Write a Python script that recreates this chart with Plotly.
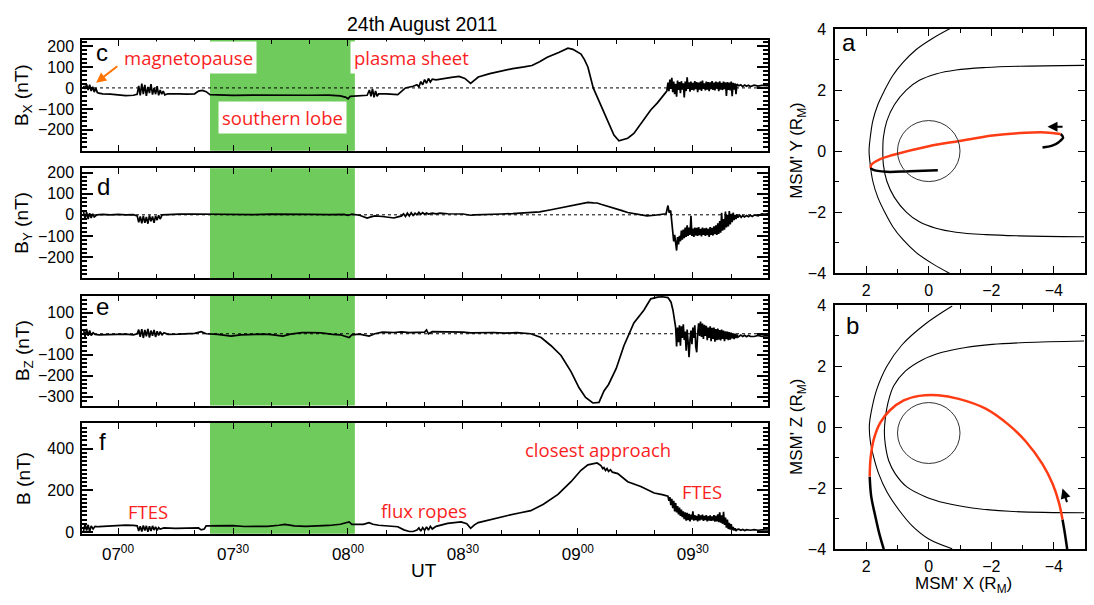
import plotly.graph_objects as go

FONT = "Liberation Sans, Arial, sans-serif"
RED_FONT = "Open Sans, Liberation Sans, sans-serif"
RED = "rgb(250,30,30)"
GREEN = "#6fcb5c"
ORANGE = "#ff7300"
TRAJ_RED = "#ff3c14"

# ---------------- time axis (minutes after 00:00 UT, 24 Aug 2011) ----------------
t_range = [410.6, 589.6]
lobe_interval = [444.0, 481.8]
time_tick_vals = [420, 450, 480, 510, 540, 570]
time_tick_text = ["07<sup>00</sup>", "07<sup>30</sup>", "08<sup>00</sup>",
                  "08<sup>30</sup>", "09<sup>00</sup>", "09<sup>30</sup>"]

# ---------------- magnetic field series (time, nT) ----------------
bx_pts = [
    (411.0, 10), (411.4, -5), (411.8, 18), (412.2, -10), (412.6, 15), (413.0, -15), (413.4, 5),
    (413.8, -20), (414.2, 0), (414.6, -22), (415, -25), (416, -28), (418, -30), (420, -33),
    (422, -37), (424, -35), (425, -30),
    (425.4, 10), (425.8, -35), (426.2, 20), (426.6, -30), (427.0, 15), (427.4, -38), (427.8, 5),
    (428.2, -25), (428.6, 18), (429.0, -32), (429.4, 0), (429.8, -30), (430.2, 8), (430.6, -35),
    (431.0, -10), (431.4, -30), (431.8, -15), (432.2, -33), (433, -28),
    (434, -27), (436, -28), (438, -30), (440, -28), (441, -15), (442, -12), (443, -18), (444, -32),
    (446, -33), (450, -36), (455, -34), (460, -35), (465, -33), (470, -35), (475, -34), (478, -38),
    (479.5, -45), (480, -52), (480.6, -40), (483, -38), (485, -35), (485.6, -10), (486, -40),
    (486.4, -5), (486.8, -45), (487.2, -15), (487.6, -40), (488, -28), (490, -28), (493, -32),
    (495, 0), (497, 8), (498, 15), (498.5, 5), (499, 30), (499.5, 15), (500, 40), (500.5, 22),
    (501, 45), (501.5, 28), (502, 42), (503, 38), (505, 45), (507, 50), (509, 55), (510.5, 45),
    (512, 22), (513, 35), (514, 52), (517, 68), (520, 80), (523, 92), (526, 100), (528, 107),
    (530, 125), (532, 146), (535, 169), (537.4, 189), (538.7, 184), (540, 170), (540.8, 161),
    (541.7, 135), (542.6, 100), (544, 0), (546, -86), (547.8, -163), (549.4, -225), (550.7, -252),
    (553, -240), (554.6, -217), (556, -180), (557.2, -147), (559, -105), (560.8, -70),
    (562.4, -32), (563.2, -15),
    (582, 10), (582.5, 15), (583, 6), (583.5, 14), (584, 8), (584.5, 13), (585, 7), (586, 13),
    (587, 9), (588, 12), (589, 10), (590, 11),
]
# fluctuating plasma-sheet interval, samples every 0.25 min from 563.5
bx_wave_start, bx_wave_step = 563.5, 0.25
bx_wave = [25, -15, 40, -5, 48, -20, 30, -30, 20, -42, 35, -10, 28, -25, 32, -8, 22, -45, 30, -15,
           50, -5, 26, -18, 30, -10, 24, -12, 32, -6, 28, -20, 25, -8, 30, -14, 35, -5, 22, -12,
           30, -8, 28, -16, 26, -6, 33, -10, 25, -12, 30, -4, 27, -15, 31, -8, 24, -10, 30, -6,
           26, -38, 28, -10, 25, -12, 30, -40, 24, -8, 22, -30, 18]

by_pts = [
    (411, 15), (411.4, -18), (411.8, 12), (412.2, -20), (412.6, 8), (413, -15), (413.4, 5),
    (413.8, -10), (414.5, 0), (416, 2), (418, 0), (420, 2), (422, 0), (424, 1), (425, -5),
    (425.4, -35), (425.8, -8), (426.2, -40), (426.6, -5), (427, -38), (427.4, -10), (427.8, -42),
    (428.2, -3), (428.6, -30), (429, -8), (429.4, -38), (429.8, -5), (430.2, -25), (430.6, -2),
    (431, -20), (431.5, 0), (433, 2), (436, 3), (440, 4), (445, 2), (450, 0), (455, 1), (460, 3),
    (465, 4), (470, 2), (475, 1), (479, 2), (480, -3), (481, 3), (483, -2), (484, -8), (485, -15),
    (486, -10), (487, -5), (489, -8), (491, -12), (492, -15), (493, -10), (494, -5), (494.5, 5),
    (495, -8), (495.5, 8), (496, -5), (496.5, 10), (497, -3), (497.5, 8), (498, 0), (498.5, 12),
    (499, 2), (499.5, 10), (500, 3), (500.5, 9), (501, 4), (502, 8), (503, 5), (504, 8), (506, 5),
    (510, 4), (512, -2), (513, 0), (516, 3), (520, 4), (523, 6), (525, 8), (528, 11), (530, 14),
    (533, 24), (535.6, 33), (539, 44), (541, 50), (542.6, 59), (544, 57), (545, 56), (546, 50),
    (547.8, 41), (549, 36), (550.4, 26), (551.5, 20), (553, 11), (554.5, 6), (556.4, 3),
    (558, -5), (560, -2), (562, 2), (563, 5), (563.5, 44), (563.8, 10), (564.2, 20),
    (582.2, -2), (582.6, -12), (583, -4), (583.5, -10), (584, -3), (584.5, -9), (585, -2),
    (585.5, -8), (586, -1), (587, -5), (588, 4), (589, 3), (590, 8),
]
by_wave_start, by_wave_step = 564.5, 0.25
by_wave = [-40, -90, -126, -95, -150, -169, -105, -140, -100, -125, -75, -118, -70, -110, -60,
           -105, -50, -100, -60, -95, -5, -100, -65, -105, -60, -98, -62, -100, -58, -96, -66,
           -102, -60, -95, -64, -100, -62, -96, -66, -104, -58, -95, -62, -98, -55, -92, -50, -95,
           -40, -90, -30, -85, 10, -75, -20, -70, 15, -60, 0, -55, 18, -45, 5, -35, 10, -25, 0,
           -20, 2, -12]

bz_pts = [
    (411, 20), (411.4, -15), (411.8, 23), (412.2, -10), (412.6, 15), (413, -8), (413.5, 5),
    (414, -3), (415, -5), (418, -4), (420, -3), (422, -2), (424, -5), (425, 0), (425.4, 20),
    (425.8, -15), (426.2, 22), (426.6, -20), (427, 18), (427.4, -12), (427.8, 23), (428.2, -18),
    (428.6, 15), (429, -10), (429.4, 18), (429.8, -15), (430.2, 12), (430.6, -8), (431, 10),
    (431.5, -5), (432, 5), (433, -3), (436, -2), (438, 0), (440, 2), (441.7, 10), (443, 0),
    (446, -3), (449.5, -11), (452, -5), (455, -3), (458, -2), (460, -4), (463, -11), (465, -2),
    (468, 5), (470, 6), (473, 4), (476, -3), (478, -5), (480.3, -18), (481, -5), (483, -2),
    (485.5, -11), (487, 0), (489, 8), (492, 6), (494, 9), (496, 5), (498, 6), (500, 8),
    (500.5, 18), (501, 0), (502, 10), (505, 9), (508, 10), (510, 8), (512, 4), (515, 5), (518, 6),
    (521, 3), (524, 5), (527.7, 0), (530.4, -18), (533, -57), (535.6, -103), (538.2, -180),
    (540.3, -257), (542, -303), (543.9, -329), (545.5, -326), (546.8, -272), (548, -241),
    (550, -165), (552, -57), (554.6, 51), (557.2, 112), (559, 166), (560.8, 174), (562, 176),
    (563.5, 172), (564.3, 150), (564.8, 112), (565.2, 60),
    (582, -12), (582.5, -6), (583, -13), (583.5, -7), (584, -14), (584.5, -8), (585, -12),
    (586, -13), (587, -8), (588, -12), (589, -9), (590, -11),
]
bz_wave_start, bz_wave_step = 565.5, 0.25
bz_wave = [30, -60, 30, -40, 40, -57, 35, -20, 45, -30, 10, -80, 20, -40, -111, -30, 15, -50, 30,
           -20, 40, -60, -88, 0, 50, -10, 58, -15, 48, -25, 42, -10, 38, -30, 30, -20, 35, -35, 28,
           -25, 30, -38, 22, -30, 25, -28, 18, -32, 20, -25, 15, -35, 12, -25, 10, -30, 8, -28, 5,
           -22, 2, -25, 0, -20, -4, -16]

b_pts = [
    (411, 5), (411.4, 40), (411.8, 8), (412.2, 35), (412.6, 3), (413, 30), (413.5, 15), (414, 28),
    (415, 26), (417, 28), (420, 32), (422, 34), (424, 32), (425, 30), (425.4, 5), (425.8, 28),
    (426.2, 3), (426.6, 32), (427, 8), (427.4, 30), (427.8, 2), (428.2, 28), (428.6, 6), (429, 30),
    (429.4, 10), (429.8, 25), (430.2, 8), (430.6, 22), (431, 15), (432, 20), (435, 18), (438, 18),
    (441, 20), (441.7, 11), (442.5, 15), (443, 30), (445, 31), (448, 33), (450, 31), (453, 27),
    (456, 26), (459, 28), (462, 33), (463.5, 37), (466, 30), (469, 28), (472, 30), (475, 32),
    (478, 38), (480.3, 49), (481, 37), (484, 37), (485.5, 45), (486.5, 38), (488, 33), (491, 28),
    (493, 26), (494.6, 11), (496, 3), (497, 3), (498, 10), (498.5, 20), (499, 5), (499.5, 22),
    (500, 8), (500.5, 25), (501, 10), (501.5, 28), (502, 15), (503, 28), (506, 42), (509.5, 49),
    (511, 40), (512, 18), (513, 35), (514, 46), (517, 60), (521.7, 80), (525, 93), (527.7, 103),
    (531, 134), (534.8, 181), (538.2, 242), (540.8, 297), (542.6, 323), (544.2, 327), (545, 332),
    (546, 320), (546.5, 305), (546.8, 310), (547.2, 296), (547.6, 305), (548, 292), (548.5, 300),
    (549, 288), (550.4, 281), (553, 242), (556.4, 219), (559.9, 188), (562, 180), (563.5, 173),
    (582, 14), (582.5, 9), (583, 13), (583.5, 8), (584, 12), (585, 9), (586, 12), (587, 9),
    (588, 11), (590, 10),
]
b_wave_start, b_wave_step = 563.75, 0.25
b_wave = [150, 168, 130, 160, 115, 150, 100, 140, 95, 125, 85, 118, 78, 108, 72, 100, 62, 95, 55,
          92, 58, 88, 52, 84, 60, 100, 55, 82, 58, 78, 52, 86, 56, 80, 60, 84, 54, 78, 58, 82, 52,
          76, 56, 80, 54, 75, 55, 82, 50, 78, 52, 85, 48, 95, 45, 80, 40, 98, 35, 70, 22, 60, 15,
          45, 12, 38, 10, 25, 8, 18, 6, 12]

# ---------------- orbit panels (R_M) ----------------
planet_a = dict(cx=0.0, cy=0.0, r=1.0)
planet_b = dict(cx=0.0, cy=-0.19, r=1.0)

mp_a_x = [-4.97, -2.89, -1.83, -0.87, -0.23, 0.30, 0.72, 1.10, 1.34, 1.45, 1.47,
          1.45, 1.34, 1.10, 0.72, 0.30, -0.23, -0.87, -1.83, -2.89, -4.97]
mp_a_y = [2.81, 2.78, 2.74, 2.66, 2.53, 2.32, 2.00, 1.52, 0.99, 0.46, 0.0,
          -0.46, -0.99, -1.52, -2.00, -2.32, -2.53, -2.66, -2.74, -2.78, -2.81]
bs_a_x = [-0.74, -0.13, 0.40, 0.83, 1.15, 1.41, 1.63, 1.79, 1.87, 1.91,
          1.87, 1.79, 1.63, 1.41, 1.15, 0.83, 0.40, -0.13, -0.74]
bs_a_y = [4.05, 3.70, 3.33, 2.90, 2.48, 2.00, 1.52, 0.99, 0.46, 0.0,
          -0.46, -0.99, -1.52, -2.00, -2.48, -2.90, -3.33, -3.70, -4.05]

mp_b_x = [-4.97, -3.10, -2.03, -1.18, -0.43, 0.21, 0.75, 1.12, 1.30, 1.39, 1.42,
          1.39, 1.28, 1.07, 0.70, 0.11, -0.53, -1.39, -2.57, -4.97]
mp_b_y = [2.83, 2.78, 2.72, 2.62, 2.46, 2.21, 1.84, 1.36, 0.82, 0.29, -0.14,
          -0.57, -1.10, -1.53, -1.96, -2.28, -2.49, -2.65, -2.76, -2.81]
bs_b_x = [-0.75, 0.11, 0.86, 1.34, 1.66, 1.82, 1.90, 1.87, 1.76, 1.60, 1.34, 0.96, 0.53, 0.0, -0.75]
bs_b_y = [3.98, 3.39, 2.70, 2.00, 1.25, 0.61, 0.07, -0.46, -0.99, -1.53, -2.12, -2.71, -3.24, -3.67, -3.99]

# spacecraft track, panel a (X, Y)
trk_a_pre_x = [-0.29, 0.62, 1.36, 1.79, 1.86]
trk_a_pre_y = [-0.63, -0.66, -0.68, -0.61, -0.55]
trk_a_red_x = [1.86, 1.84, 1.57, 1.15, 0.0, -0.98, -2.04, -3.10, -3.74, -4.22]
trk_a_red_y = [-0.55, -0.45, -0.27, -0.13, 0.16, 0.33, 0.51, 0.60, 0.61, 0.56]
trk_a_post_x = [-4.22, -4.30, -4.17, -3.95, -3.64]
trk_a_post_y = [0.56, 0.45, 0.30, 0.18, 0.12]
# spacecraft track, panel b (X, Z)
trk_b_pre_x = [1.44, 1.58, 1.71, 1.84, 1.89]
trk_b_pre_z = [-4.0, -3.5, -2.92, -2.28, -1.62]
trk_b_red_x = [1.89, 1.86, 1.76, 1.55, 1.25, 0.80, 0.30, -0.30, -0.96, -1.82, -2.57, -3.10,
               -3.64, -3.96, -4.17, -4.28]
trk_b_red_z = [-1.62, -1.00, -0.40, 0.15, 0.55, 0.88, 1.03, 1.05, 0.93, 0.61, 0.07, -0.46,
               -1.21, -1.85, -2.49, -3.03]
trk_b_post_x = [-4.28, -4.35, -4.43]
trk_b_post_z = [-3.03, -3.45, -4.0]
arrow_a = dict(tail=(-4.33, 0.8), head=(-3.80, 0.8))
arrow_b = dict(tail=(-4.44, -2.51), head=(-4.28, -2.01))

# ---------------- figure ----------------
W, H = 1094, 605
def px_x(p): return p / W
def px_y(p): return 1 - p / H

def merge(pts, start, step, vals):
    wave = [(start + k * step, v) for k, v in enumerate(vals)]
    allp = sorted(pts + wave)
    return [p[0] for p in allp], [p[1] for p in allp]

fig = go.Figure()

series = [("x", "y", merge(bx_pts, bx_wave_start, bx_wave_step, bx_wave)),
          ("x2", "y2", merge(by_pts, by_wave_start, by_wave_step, by_wave)),
          ("x3", "y3", merge(bz_pts, bz_wave_start, bz_wave_step, bz_wave)),
          ("x4", "y4", merge(b_pts, b_wave_start, b_wave_step, b_wave))]
for xa, ya, (ts, vs) in series:
    fig.add_trace(go.Scatter(x=ts, y=vs, xaxis=xa, yaxis=ya,
                             mode="lines", line=dict(color="black", width=1.7),
                             showlegend=False, hoverinfo="skip"))

def line(xa, ya, xs, ys, color="black", width=1.1, shape="spline"):
    fig.add_trace(go.Scatter(x=xs, y=ys, xaxis=xa, yaxis=ya, mode="lines",
                             line=dict(color=color, width=width, shape=shape),
                             showlegend=False, hoverinfo="skip"))

line("x5", "y5", mp_a_x, mp_a_y)
line("x5", "y5", bs_a_x, bs_a_y)
line("x5", "y5", trk_a_pre_x, trk_a_pre_y, width=2.5)
line("x5", "y5", trk_a_post_x, trk_a_post_y, width=2.5)
line("x5", "y5", trk_a_red_x, trk_a_red_y, color=TRAJ_RED, width=2.5)
line("x6", "y6", mp_b_x, mp_b_y)
line("x6", "y6", bs_b_x, bs_b_y)
line("x6", "y6", trk_b_pre_x, trk_b_pre_z, width=2.5)
line("x6", "y6", trk_b_post_x, trk_b_post_z, width=2.5)
line("x6", "y6", trk_b_red_x, trk_b_red_z, color=TRAJ_RED, width=2.5)

# domains (pixel boxes of the reference)
left_x = [px_x(82), px_x(768)]
rows = [(33, 147), (165, 278), (296, 409), (427, 541)]
right_x = [px_x(835), px_x(1085)]
right_rows = [(21.7, 272.7), (306, 556.7)]

y_ranges = [[-300, 228], [-300, 220], [-341, 181], [-8, 524]]
y_ticks = [[-200, -100, 0, 100, 200], [-200, -100, 0, 100, 200],
           [-300, -200, -100, 0, 100], [0, 200, 400]]

axis_common = dict(showline=True, linecolor="black", linewidth=1.5, mirror="allticks",
                   ticks="inside", tickcolor="black", showgrid=False, zeroline=False,
                   tickfont=dict(family=FONT, size=16, color="black"))

layout = dict(width=W, height=H, margin=dict(l=0, r=0, t=0, b=0),
              plot_bgcolor="white", paper_bgcolor="white", showlegend=False)

for i in range(4):
    sfx = "" if i == 0 else str(i + 1)
    top, bot = rows[i]
    layout["xaxis" + sfx] = dict(axis_common, domain=left_x, range=t_range,
                                 anchor="y" + sfx, tickmode="array",
                                 tickvals=time_tick_vals, ticktext=time_tick_text,
                                 ticklen=6, tickwidth=1.2,
                                 showticklabels=(i == 3), ticklabelstandoff=4,
                                 tickfont=dict(family=FONT, size=17, color="black"),
                                 minor=dict(tickmode="linear", tick0=0, dtick=10, ticks="inside",
                                            ticklen=4, tickcolor="black", showgrid=False))
    if i > 0:
        layout["xaxis" + sfx]["matches"] = "x"
    layout["yaxis" + sfx] = dict(axis_common, domain=[px_y(bot), px_y(top)], range=y_ranges[i],
                                 anchor="x" + sfx, tickmode="array", tickvals=y_ticks[i],
                                 ticklen=11, tickwidth=1.5, ticklabelstandoff=3,
                                 minor=dict(tickmode="linear", tick0=0, dtick=20, ticks="inside",
                                            ticklen=5, tickcolor="black", showgrid=False))

for j in range(2):
    sfx = str(j + 5)
    top, bot = right_rows[j]
    layout["xaxis" + sfx] = dict(axis_common, domain=right_x, range=[3, -5], anchor="y" + sfx,
                                 tickmode="array", tickvals=[2, 0, -2, -4],
                                 ticklen=7, tickwidth=1.2, ticklabelstandoff=2,
                                 minor=dict(tickmode="linear", tick0=0, dtick=1, ticks="inside",
                                            ticklen=4, tickcolor="black", showgrid=False))
    layout["yaxis" + sfx] = dict(axis_common, domain=[px_y(bot), px_y(top)], range=[-4, 4],
                                 anchor="x" + sfx, tickmode="array", tickvals=[-4, -2, 0, 2, 4],
                                 ticklen=7, tickwidth=1.2, ticklabelstandoff=4,
                                 minor=dict(tickmode="linear", tick0=0, dtick=1, ticks="inside",
                                            ticklen=4, tickcolor="black", showgrid=False))

shapes = []
for i in range(4):
    sfx = "" if i == 0 else str(i + 1)
    shapes.append(dict(type="rect", xref="x" + sfx, yref="y" + sfx + " domain",
                       x0=lobe_interval[0], x1=lobe_interval[1], y0=0, y1=1,
                       fillcolor=GREEN, line=dict(width=0), layer="below"))
    if i < 3:
        shapes.append(dict(type="line", xref="x" + sfx + " domain", yref="y" + sfx,
                           x0=0, x1=1, y0=0, y1=0, line=dict(color="black", width=1, dash="dot"),
                           layer="below"))
for sfx, pl in (("5", planet_a), ("6", planet_b)):
    shapes.append(dict(type="circle", xref="x" + sfx, yref="y" + sfx,
                       x0=pl["cx"] - pl["r"], x1=pl["cx"] + pl["r"],
                       y0=pl["cy"] - pl["r"], y1=pl["cy"] + pl["r"],
                       line=dict(color="#333333", width=1)))
layout["shapes"] = shapes

ann = []
def text(x, y, s, size=19, color="black", font=FONT, xref="paper", yref="paper", angle=0, **kw):
    d = dict(x=x, y=y, xref=xref, yref=yref, text=s, showarrow=False, textangle=angle,
             font=dict(family=font, size=size, color=color), xanchor="center", yanchor="middle")
    d.update(kw)
    ann.append(d)

text(px_x(422), px_y(16), "24th August 2011", size=19.5)
text(px_x(424), px_y(578.5), "UT", size=19)
for lab, cy in zip(["B<sub>X</sub> (nT)", "B<sub>Y</sub> (nT)", "B<sub>Z</sub> (nT)", "B (nT)"],
                   [90, 221.5, 352.5, 484]):
    text(px_x(23.5), px_y(cy), lab, size=19, angle=-90)
for lab, (cx, cy) in zip("cdef", [(102, 46), (103, 184), (102, 307), (102, 446)]):
    text(px_x(cx), px_y(cy), lab, size=24)
text(px_x(849), px_y(35), "a", size=24)
text(px_x(852), px_y(327), "b", size=24)
text(px_x(798), px_y(147), "MSM' Y (R<sub>M</sub>)", size=17, angle=-90)
text(px_x(798), px_y(431), "MSM' Z (R<sub>M</sub>)", size=17, angle=-90)
text(px_x(963.5), px_y(580), "MSM' X (R<sub>M</sub>)", size=17, yanchor="top")

# red event labels (data coordinates)
box = dict(bgcolor="white", borderpad=3)
text(438.3, 144, "magnetopause", size=18.5, color=RED, font=RED_FONT, xref="x", yref="y", **box)
text(496.5, 144, "plasma sheet", size=18.5, color=RED, font=RED_FONT, xref="x", yref="y", **box)
text(463.0, -141, "southern lobe", size=18.5, color=RED, font=RED_FONT, xref="x", yref="y", **box)
text(427.8, 100, "FTES", size=18.5, color=RED, font=RED_FONT, xref="x4", yref="y4")
text(499.8, 104, "flux ropes", size=18.5, color=RED, font=RED_FONT, xref="x4", yref="y4")
text(545.2, 396, "closest approach", size=18.5, color=RED, font=RED_FONT, xref="x4", yref="y4")
text(572.4, 197, "FTES", size=18.5, color=RED, font=RED_FONT, xref="x4", yref="y4")

ann.append(dict(x=414.3, y=25, ax=420.2, ay=109, xref="x", yref="y", axref="x", ayref="y",
                showarrow=True, arrowhead=2, arrowsize=1, arrowwidth=2, arrowcolor=ORANGE, text=""))
for sfx, ar in (("5", arrow_a), ("6", arrow_b)):
    ann.append(dict(x=ar["head"][0], y=ar["head"][1], ax=ar["tail"][0], ay=ar["tail"][1],
                    xref="x" + sfx, yref="y" + sfx, axref="x" + sfx, ayref="y" + sfx,
                    showarrow=True, arrowhead=2, arrowsize=1, arrowwidth=2, arrowcolor="black",
                    text=""))
layout["annotations"] = ann

fig.update_layout(**layout)
fig.write_html("out.html")
